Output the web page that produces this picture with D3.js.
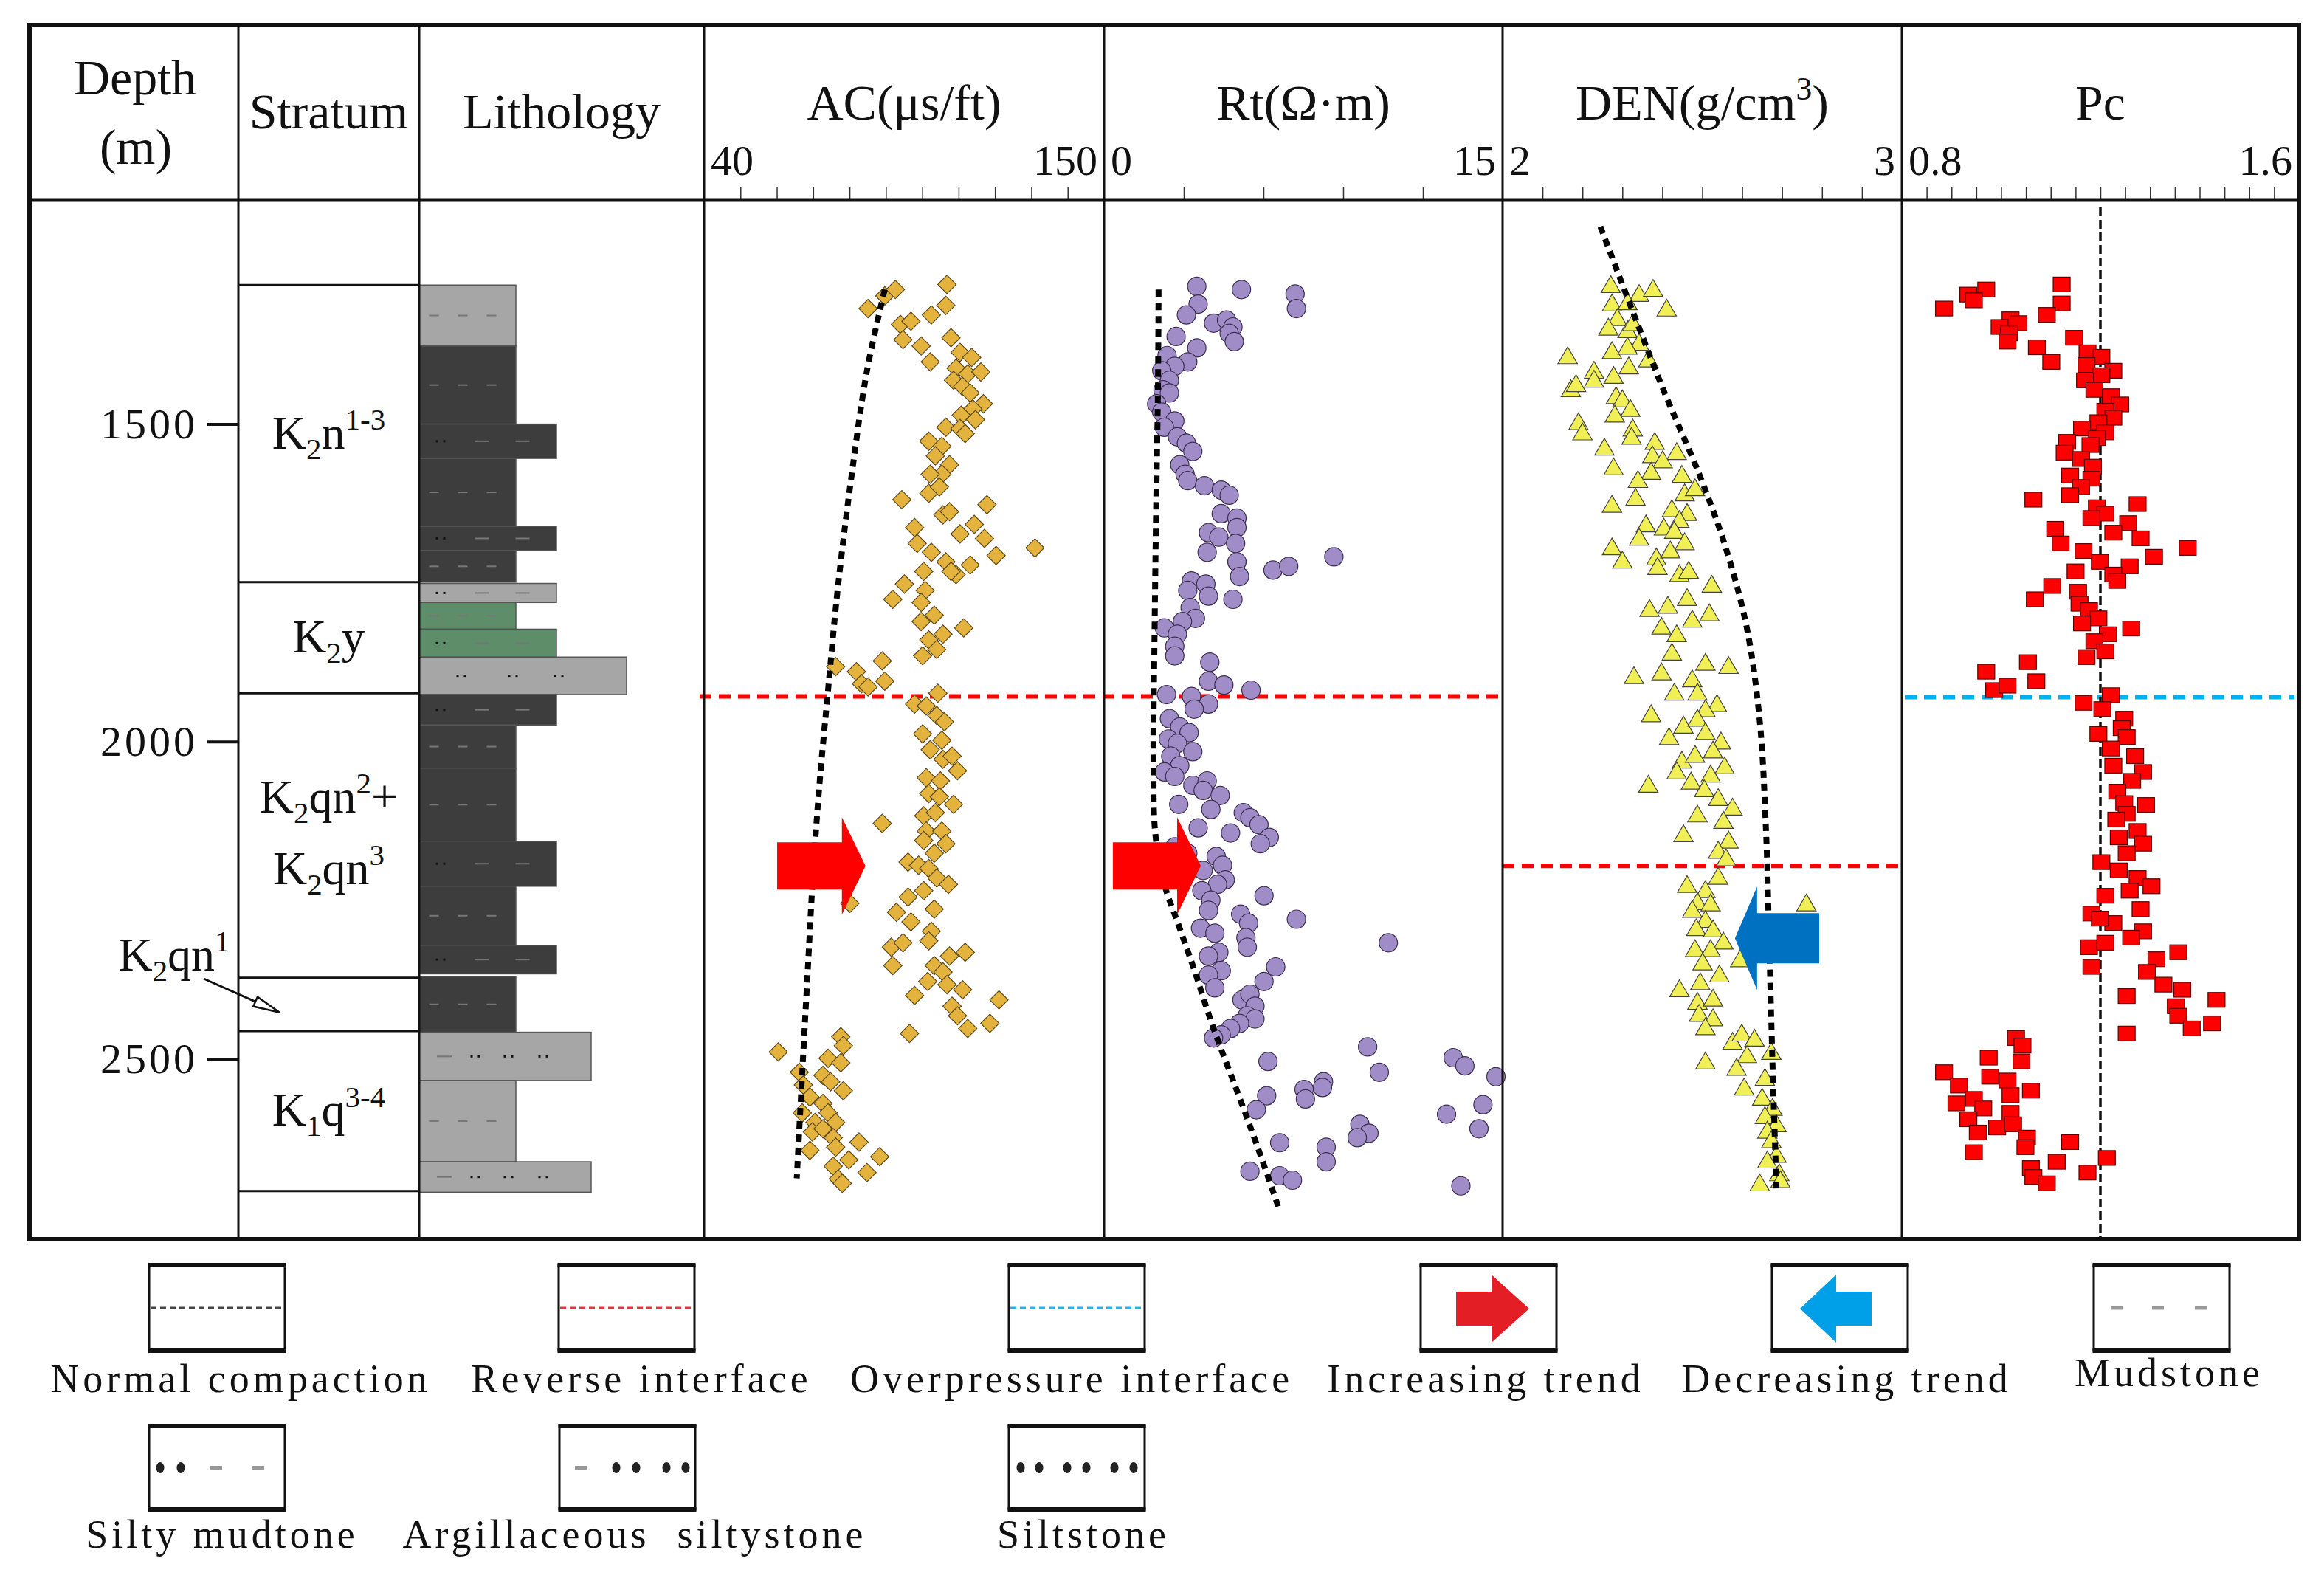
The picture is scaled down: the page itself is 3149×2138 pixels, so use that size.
<!DOCTYPE html>
<html>
<head>
<meta charset="utf-8">
<script src="https://cdn.jsdelivr.net/npm/d3@7"></script>
<style>
  body { margin: 0; background: #fff; }
  text { font-family: "Liberation Serif", "Times New Roman", serif; fill: #111; white-space: pre; }
</style>
</head>
<body>
<div class="canvas"></div>
<script>
// ---- data ----
const depthTicks = [1500, 2000, 2500];
const strataBounds = [1281, 1749, 1924, 2372, 2456, 2708];

// lithology layers: [top, bottom, type, shade]
const lithoLayers = [
  [1281, 1377, "mud", "light"],
  [1377, 1500, "mud", "dark"],
  [1500, 1554, "silty", "dark"],
  [1554, 1661, "mud", "dark"],
  [1661, 1699, "silty", "dark"],
  [1699, 1749, "mud", "dark"],
  [1751, 1781, "silty", "light"],
  [1781, 1823, "mud", "green"],
  [1823, 1867, "silty", "green"],
  [1867, 1926, "silt", "light"],
  [1926, 1974, "silty", "dark"],
  [1974, 2042, "mud", "dark"],
  [2042, 2157, "mud", "dark"],
  [2157, 2228, "silty", "dark"],
  [2228, 2321, "mud", "dark"],
  [2321, 2366, "silty", "dark"],
  [2370, 2458, "mud", "dark"],
  [2458, 2534, "argill", "light"],
  [2534, 2662, "mud", "light"],
  [2662, 2710, "argill", "light"]
];

const acRange = [40, 150], rtRange = [0, 15], denRange = [2, 3], pcRange = [0.8, 1.6];
const acTicks = [50, 60, 70, 80, 90, 100, 110, 120, 130, 140];
const rtTicks = [3, 6, 9, 12];
const denTicks = [2.1, 2.2, 2.3, 2.4, 2.5, 2.6, 2.7, 2.8, 2.9];
const pcTicks = [0.85, 0.9, 0.95, 1.0, 1.05, 1.1, 1.15, 1.2, 1.25, 1.3, 1.35, 1.4, 1.45, 1.5, 1.55];

// [value, depth]
const acPoints = [[85.1,1318],[89.7,1298],[92.6,1288],[106.8,1280],[106.5,1313],[102.5,1328],[94.0,1343],[96.9,1338],[94.7,1367],[99.7,1377],[102.2,1402],[107.9,1364],[110.4,1387],[113.6,1395],[109.3,1412],[112.5,1421],[116.1,1418],[108.6,1431],[111.1,1441],[113.2,1451],[116.8,1468],[113.9,1476],[110.7,1486],[114.6,1493],[106.5,1505],[110.4,1507],[111.8,1515],[101.8,1527],[105.4,1535],[103.6,1550],[107.5,1564],[105.4,1579],[102.2,1579],[101.8,1609],[104.7,1599],[94.4,1619],[117.8,1627],[105.7,1643],[107.5,1638],[110.4,1673],[114.3,1658],[97.9,1663],[98.6,1688],[102.5,1702],[106.5,1717],[117.1,1680],[120.3,1707],[131.0,1695],[113.2,1722],[109.3,1737],[107.9,1732],[95.1,1752],[91.9,1776],[100.4,1732],[100.8,1762],[103.3,1801],[99.7,1781],[99.7,1811],[105.7,1831],[111.4,1821],[101.8,1840],[104.0,1855],[100.1,1865],
  [76.2,1882],[81.9,1890],[83.3,1909],[89.0,1873],[89.7,1905],[85.1,1914],
  [104.3,1924],[97.9,1941],[101.1,1944],[104.0,1959],[106.1,1969],[100.1,1988],[105.4,1998],[102.2,2013],[105.7,2028],[108.2,2023],[109.7,2046],[101.1,2057],[105.0,2062],[101.8,2082],[104.7,2087],[108.6,2099],[100.4,2117],[103.6,2112],[89.0,2129],[101.1,2141],[105.4,2141],[100.4,2156],[106.5,2161],[103.3,2176],[96.1,2190],[99.0,2195],[101.8,2200],[104.0,2215],[107.2,2225],[100.4,2235],[96.1,2245],[80.1,2255],[92.9,2269],[96.9,2284],[103.3,2264],[102.5,2299],[101.8,2314],[91.5,2324],[94.7,2317],[91.9,2353],[107.5,2338],[111.8,2332],[103.3,2353],[105.7,2363],[106.8,2383],[101.5,2378],[97.9,2400],[111.1,2391],[121.1,2407],[108.2,2417],[109.7,2432],[112.5,2452],[118.6,2444],[96.5,2460],
  [60.4,2489],[77.6,2465],[78.3,2479],[74.1,2499],[77.6,2506],[66.2,2521],[72.7,2526],[74.8,2536],[67.3,2541],[78.3,2550],[69.1,2560],[72.7,2570],[74.1,2585],[67.0,2585],[70.5,2600],[76.2,2600],[69.8,2615],[72.7,2610],[75.5,2624],[82.6,2631],[69.1,2644],[76.2,2639],[79.8,2659],[88.3,2654],[75.5,2669],[84.8,2679],[76.9,2689],[78.0,2696]];

const rtPoints = [[3.49,1283],[5.17,1288],[7.19,1295],[7.24,1318],[3.54,1311],[3.10,1328],[4.12,1341],[4.61,1336],[4.85,1347],[4.71,1357],[4.90,1370],[2.71,1362],[3.49,1380],[2.37,1392],[3.15,1402],[2.66,1409],[2.17,1416],[2.46,1431],[2.22,1446],[2.46,1451],[1.98,1468],[2.17,1481],[2.66,1495],[2.27,1505],[2.76,1520],[3.10,1530],[3.34,1543],[2.85,1564],[3.05,1579],[3.15,1589],[3.78,1597],[4.41,1604],[4.71,1612],[4.41,1641],[5.00,1648],[3.93,1671],[4.32,1678],[5.00,1663],[4.95,1688],[3.88,1702],[5.00,1717],[5.10,1740],[6.36,1730],[6.95,1724],[8.65,1709],[3.29,1747],[3.83,1752],[3.15,1762],[3.93,1771],[3.24,1789],[3.44,1806],[2.27,1821],[2.95,1811],[2.76,1831],[2.66,1850],[2.66,1865],[4.85,1776],[3.98,1875],[3.93,1905],[4.51,1911],[5.53,1919],[2.35,1926],[3.29,1929],[3.93,1941],[3.39,1949],[2.46,1964],[2.85,1977],[3.20,1986],[2.42,1996],[2.76,2003],[3.34,2016],[2.51,2023],[2.85,2038],[2.27,2048],[2.66,2055],[3.34,2069],[3.88,2062],[3.73,2077],[4.37,2085],[4.02,2107],[2.81,2099],[5.24,2112],[5.49,2120],[5.83,2131],[6.22,2151],[5.88,2161],[3.54,2136],[4.76,2144],[2.66,2166],[3.15,2176],[4.22,2181],[4.46,2195],[3.73,2203],[4.56,2218],[4.27,2225],[3.68,2235],[4.02,2250],[6.02,2243],[7.24,2280],[3.93,2266],[5.14,2272],[5.44,2286],[3.63,2294],[4.17,2302],[5.34,2309],[5.39,2324],[10.70,2317],[4.32,2332],[3.93,2338],[4.41,2361],[3.93,2368],[4.17,2388],[6.46,2355],[6.02,2378],[5.19,2407],[5.49,2398],[5.68,2417],[5.39,2432],[5.68,2437],[5.10,2444],[4.76,2452],[4.41,2462],[4.12,2467],[9.92,2481],[6.17,2504],[10.36,2521],[13.14,2498],[13.58,2511],[14.75,2528],[7.53,2548],[7.58,2563],[8.26,2536],[8.22,2545],[6.12,2558],[5.73,2580],[12.89,2587],[14.26,2572],[9.63,2603],[9.97,2617],[9.53,2624],[14.11,2610],[6.61,2632],[8.36,2639],[8.36,2662],[5.49,2677],[6.61,2684],[7.09,2691],[13.43,2700]];

const denPoints = [[2.271,1284],[2.342,1298],[2.377,1290],[2.411,1321],[2.274,1313],[2.313,1311],[2.287,1336],[2.265,1351],[2.313,1355],[2.326,1344],[2.342,1375],[2.274,1388],[2.313,1381],[2.365,1401],[2.163,1396],[2.316,1412],[2.229,1419],[2.278,1427],[2.171,1448],[2.184,1440],[2.229,1433],[2.284,1459],[2.300,1464],[2.320,1479],[2.281,1488],[2.326,1510],[2.190,1500],[2.200,1516],[2.255,1540],[2.323,1523],[2.381,1531],[2.278,1571],[2.375,1552],[2.436,1547],[2.401,1560],[2.372,1578],[2.449,1583],[2.339,1591],[2.333,1619],[2.456,1612],[2.482,1604],[2.274,1630],[2.424,1637],[2.462,1643],[2.443,1654],[2.359,1661],[2.404,1666],[2.342,1682],[2.430,1671],[2.456,1689],[2.274,1697],[2.300,1718],[2.385,1713],[2.388,1728],[2.420,1702],[2.443,1739],[2.466,1734],[2.524,1756],[2.462,1777],[2.368,1794],[2.414,1789],[2.518,1801],[2.475,1811],[2.398,1822],[2.436,1834],[2.424,1863],[2.508,1879],[2.566,1884],[2.329,1900],[2.398,1894],[2.475,1905],[2.488,1926],[2.430,1926],[2.537,1944],[2.372,1960],[2.508,1952],[2.453,1978],[2.488,1967],[2.508,1988],[2.417,1996],[2.547,2003],[2.527,2017],[2.449,2033],[2.482,2024],[2.556,2042],[2.436,2050],[2.521,2055],[2.365,2071],[2.472,2066],[2.505,2078],[2.540,2092],[2.576,2107],[2.488,2118],[2.553,2128],[2.453,2149],[2.566,2159],[2.540,2175],[2.560,2187],[2.462,2229],[2.508,2237],[2.540,2216],[2.488,2256],[2.521,2258],[2.475,2268],[2.508,2284],[2.485,2297],[2.527,2299],[2.553,2318],[2.482,2330],[2.521,2330],[2.595,2346],[2.501,2351],[2.543,2370],[2.495,2382],[2.443,2393],[2.488,2413],[2.527,2408],[2.492,2432],[2.527,2439],[2.508,2453],[2.576,2476],[2.599,2463],[2.631,2471],[2.673,2492],[2.612,2497],[2.586,2517],[2.657,2533],[2.605,2548],[2.650,2564],[2.676,2580],[2.657,2593],[2.686,2606],[2.663,2616],[2.673,2631],[2.686,2654],[2.663,2663],[2.693,2683],[2.644,2699],[2.696,2694],[2.508,2507],[2.761,2258]];

const pcPoints = [[1.122,1280],[1.122,1310],[0.970,1288],[0.934,1296],[0.945,1305],[0.885,1318],[1.092,1328],[1.019,1335],[1.035,1341],[0.997,1347],[1.016,1357],[1.013,1370],[1.072,1379],[1.101,1402],[1.147,1364],[1.174,1387],[1.202,1394],[1.172,1407],[1.226,1416],[1.202,1423],[1.169,1431],[1.188,1446],[1.221,1456],[1.240,1469],[1.210,1479],[1.226,1490],[1.196,1497],[1.163,1507],[1.210,1513],[1.193,1522],[1.133,1528],[1.180,1533],[1.128,1545],[1.161,1555],[1.185,1567],[1.139,1581],[1.182,1586],[1.161,1599],[1.139,1612],[1.065,1619],[1.275,1626],[1.193,1631],[1.210,1641],[1.182,1648],[1.256,1656],[1.109,1665],[1.226,1671],[1.281,1680],[1.120,1688],[1.166,1700],[1.376,1695],[1.308,1709],[1.199,1717],[1.259,1724],[1.226,1737],[1.234,1747],[1.150,1732],[1.103,1755],[1.068,1776],[1.155,1764],[1.158,1783],[1.177,1793],[1.196,1806],[1.163,1814],[1.262,1822],[1.215,1831],[1.188,1842],[1.210,1858],[1.172,1867],[1.054,1875],[0.970,1890],[0.986,1919],[1.013,1912],[1.071,1905],[1.166,1939],[1.221,1927],[1.204,1949],[1.248,1964],[1.196,1988],[1.243,1979],[1.253,1993],[1.221,2011],[1.270,2023],[1.226,2038],[1.286,2048],[1.264,2062],[1.234,2079],[1.292,2100],[1.248,2097],[1.253,2114],[1.232,2123],[1.275,2141],[1.237,2151],[1.286,2161],[1.253,2176],[1.202,2190],[1.237,2203],[1.275,2215],[1.303,2228],[1.259,2235],[1.210,2243],[1.281,2264],[1.182,2271],[1.226,2286],[1.199,2279],[1.286,2299],[1.262,2309],[1.177,2324],[1.210,2317],[1.182,2355],[1.357,2332],[1.313,2343],[1.294,2363],[1.327,2383],[1.365,2391],[1.253,2401],[1.434,2407],[1.352,2417],[1.357,2432],[1.425,2444],[1.384,2452],[1.253,2460],[1.030,2467],[1.043,2479],[0.975,2498],[1.041,2504],[0.885,2521],[0.978,2528],[1.013,2534],[0.915,2542],[1.060,2550],[1.019,2557],[0.945,2563],[0.910,2570],[0.964,2578],[1.019,2585],[0.934,2595],[0.992,2608],[1.024,2603],[0.953,2616],[1.052,2624],[1.139,2631],[1.049,2639],[0.945,2647],[1.112,2662],[1.213,2656],[1.174,2679],[1.060,2672],[1.065,2686],[1.092,2696]];

// normal compaction trends [value, depth]
const acTrend = [[89.7,1288],[84.8,1416],[80.5,1584],[76.9,1752],[74.1,1919],[71.6,2077],[69.8,2225],[68.4,2373],[67.0,2521],[65.5,2688]];
const rtTrend = [[2.05,1288],[2.03,1436],[1.96,1633],[1.90,1831],[1.86,2028],[1.93,2146],[2.27,2225],[2.76,2284],[3.34,2353],[4.12,2452],[5.00,2550],[5.78,2639],[6.56,2733]];
const denTrend = [[2.245,1189],[2.333,1334],[2.404,1448],[2.495,1583],[2.560,1697],[2.612,1822],[2.644,1967],[2.660,2144],[2.667,2299],[2.676,2507],[2.686,2704]];
const pcNormal = 1.2;
const reverseDepth = 1929, denReverseDepth = 2196, overpressureDepth = 1930;

const legendLabels = ["Normal compaction", "Reverse interface", "Overpressure interface",
  "Increasing trend", "Decreasing trend", "Mudstone",
  "Silty mudtone", "Argillaceous  siltystone", "Siltstone"];

// ---- layout ----
const W = 3149, H = 2138;
const colX = [40, 323, 568, 954, 1496, 2036, 2577, 3115];
const frame = { top: 34, head: 271, bottom: 1679 };

const svg = d3.select(".canvas").append("svg").attr("width", W).attr("height", H);
svg.append("rect").attr("width", W).attr("height", H).attr("fill", "#fff");

const y = d3.scaleLinear().domain([1147, 2784]).range([frame.head, frame.bottom]);
const xAC = d3.scaleLinear().domain(acRange).range([colX[3], colX[4]]);
const xRt = d3.scaleLinear().domain(rtRange).range([colX[4], colX[5]]);
const xDEN = d3.scaleLinear().domain(denRange).range([colX[5], colX[6]]);
const xPc = d3.scaleLinear().domain(pcRange).range([colX[6], colX[7]]);

// rich text helper (sub / sup)
const richText = (sel, parts, size) => {
  let shift = 0;
  parts.forEach(([t, k]) => {
    const target = k === "sub" ? size * 0.22 : k === "sup" ? -size * 0.4 : 0;
    sel.append("tspan").text(t)
      .attr("font-size", k ? size * 0.64 : size)
      .attr("dy", target - shift);
    shift = target;
  });
};

// header texts
const head = svg.append("g");
head.append("text").attr("x", 183).attr("y", 128).attr("text-anchor", "middle").attr("font-size", 68).text("Depth");
head.append("text").attr("x", 184).attr("y", 222).attr("text-anchor", "middle").attr("font-size", 68).text("(m)");
head.append("text").attr("x", (colX[1] + colX[2]) / 2).attr("y", 174).attr("text-anchor", "middle").attr("font-size", 68).text("Stratum");
head.append("text").attr("x", (colX[2] + colX[3]) / 2).attr("y", 174).attr("text-anchor", "middle").attr("font-size", 68).text("Lithology");

const tracks = [
  { scale: xAC, ticks: acTicks, title: [["AC(μs/ft)"]], ends: ["40", "150"] },
  { scale: xRt, ticks: rtTicks, title: [["Rt(Ω·m)"]], ends: ["0", "15"] },
  { scale: xDEN, ticks: denTicks, title: [["DEN(g/cm"], ["3", "sup"], [")"]], ends: ["2", "3"] },
  { scale: xPc, ticks: pcTicks, title: [["Pc"]], ends: ["0.8", "1.6"] }
];

tracks.forEach((t) => {
  const [r0, r1] = t.scale.range();
  const tt = head.append("text").attr("x", (r0 + r1) / 2).attr("y", 162).attr("text-anchor", "middle");
  richText(tt, t.title, 68);
  head.append("text").attr("x", r0 + 9).attr("y", 237).attr("font-size", 58).text(t.ends[0]);
  head.append("text").attr("x", r1 - 9).attr("y", 237).attr("text-anchor", "end").attr("font-size", 58).text(t.ends[1]);
  const ax = svg.append("g").attr("transform", `translate(0,${frame.head})`)
    .call(d3.axisTop(t.scale).tickValues(t.ticks).tickSize(18).tickFormat(""));
  ax.select(".domain").remove();
  ax.selectAll("line").attr("stroke", "#333").attr("stroke-width", 1.5);
});

// depth axis
const dAx = svg.append("g").attr("transform", `translate(${colX[1]},0)`)
  .call(d3.axisLeft(y).tickValues(depthTicks).tickSize(42).tickPadding(13).tickFormat(d3.format("d")));
dAx.select(".domain").remove();
dAx.selectAll("line").attr("stroke", "#111").attr("stroke-width", 4);
dAx.selectAll("text").attr("font-size", 58).attr("letter-spacing", 4)
  .attr("font-family", "Liberation Serif").attr("fill", "#111");

// strata
const strat = svg.append("g");
strat.selectAll("line").data(strataBounds).join("line")
  .attr("x1", colX[1]).attr("x2", colX[2])
  .attr("y1", (d) => y(d)).attr("y2", (d) => y(d))
  .attr("stroke", "#111").attr("stroke-width", 3);

const strataNames = [
  { i: 0, lines: [[["K"], ["2", "sub"], ["n"], ["1-3", "sup"]]] },
  { i: 1, lines: [[["K"], ["2", "sub"], ["y"]]] },
  { i: 2, lines: [[["K"], ["2", "sub"], ["qn"], ["2", "sup"], ["+"]], [["K"], ["2", "sub"], ["qn"], ["3", "sup"]]] },
  { i: 4, lines: [[["K"], ["1", "sub"], ["q"], ["3-4", "sup"]]] }
];
strataNames.forEach((s) => {
  const mid = (y(strataBounds[s.i]) + y(strataBounds[s.i + 1])) / 2;
  const ys = s.lines.length === 1 ? [mid + 20] : [mid - 31, mid + 66];
  s.lines.forEach((parts, k) => {
    const t = strat.append("text").attr("x", (colX[1] + colX[2]) / 2).attr("y", ys[k]).attr("text-anchor", "middle");
    richText(t, parts, 64);
  });
});
// K2qn1 callout
const cq = strat.append("text").attr("x", 236).attr("y", 1315).attr("text-anchor", "middle");
richText(cq, [["K"], ["2", "sub"], ["qn"], ["1", "sup"]], 64);
{
  const x1 = 276, y1 = 1326, x2 = 379, y2 = (y(strataBounds[3]) + y(strataBounds[4])) / 2 + 11;
  const a = Math.atan2(y2 - y1, x2 - x1);
  strat.append("line").attr("x1", x1).attr("y1", y1).attr("x2", x2 - 20 * Math.cos(a)).attr("y2", y2 - 20 * Math.sin(a))
    .attr("stroke", "#111").attr("stroke-width", 3);
  const bx = x2 - 36 * Math.cos(a), by = y2 - 36 * Math.sin(a);
  const px = -Math.sin(a) * 7, py = Math.cos(a) * 7;
  strat.append("path").attr("d", `M${x2},${y2}L${bx + px},${by + py}L${bx - px},${by - py}Z`)
    .attr("fill", "#fff").attr("stroke", "#111").attr("stroke-width", 2.5);
}

// lithology
const shadeColor = { dark: "#3d3d3d", light: "#a6a6a6", green: "#5e8d69" };
const grainRight = d3.scaleOrdinal().domain(["mud", "silty", "argill", "silt"]).range([131, 186, 233, 281]);
const patterns = {
  mud: { dots: [], dashes: [20, 59, 98], len: 13 },
  silty: { dots: [29], dashes: [85, 140], len: 19 },
  argill: { dots: [76, 121, 168], dashes: [34], len: 20 },
  silt: { dots: [57, 127, 189], dashes: [], len: 0 }
};
const litho = svg.append("g");
lithoLayers.forEach(([top, bot, type, shade]) => {
  const y0 = y(top), y1 = y(bot), x0 = colX[2];
  litho.append("rect").attr("x", x0).attr("y", y0).attr("width", grainRight(type)).attr("height", y1 - y0)
    .attr("fill", shadeColor[shade]).attr("stroke", "#555").attr("stroke-width", 1.5);
  const cy = (y0 + y1) / 2, p = patterns[type];
  p.dashes.forEach((dx) => {
    litho.append("line").attr("x1", x0 + dx - p.len / 2).attr("x2", x0 + dx + p.len / 2)
      .attr("y1", cy).attr("y2", cy).attr("stroke", "#777").attr("stroke-width", 2);
  });
  p.dots.forEach((dx) => {
    [-5, 5].forEach((o) => litho.append("rect").attr("x", x0 + dx + o - 1.5).attr("y", cy - 1.5)
      .attr("width", 3).attr("height", 3).attr("fill", "#111"));
  });
});

// interface lines
const ifc = svg.append("g");
ifc.append("line").attr("x1", colX[3] - 6).attr("x2", colX[5]).attr("y1", y(reverseDepth)).attr("y2", y(reverseDepth))
  .attr("stroke", "#ff0000").attr("stroke-width", 6).attr("stroke-dasharray", "16 10");
ifc.append("line").attr("x1", colX[5]).attr("x2", colX[6]).attr("y1", y(denReverseDepth)).attr("y2", y(denReverseDepth))
  .attr("stroke", "#ff0000").attr("stroke-width", 6).attr("stroke-dasharray", "16 10");
ifc.append("line").attr("x1", colX[6] + 4).attr("x2", colX[7] - 6).attr("y1", y(overpressureDepth)).attr("y2", y(overpressureDepth))
  .attr("stroke", "#00b0f0").attr("stroke-width", 6).attr("stroke-dasharray", "16 10");
svg.append("line").attr("x1", xPc(pcNormal)).attr("x2", xPc(pcNormal)).attr("y1", frame.head + 10).attr("y2", frame.bottom)
  .attr("stroke", "#111").attr("stroke-width", 3.5).attr("stroke-dasharray", "12 5");

// scatter marks
const marks = svg.append("g");
marks.selectAll(".ac").data(acPoints).join("path").attr("class", "ac")
  .attr("d", d3.symbol(d3.symbolSquare, 310))
  .attr("transform", (d) => `translate(${xAC(d[0])},${y(d[1])}) rotate(45)`)
  .attr("fill", "#e3b33d").attr("stroke", "#5e4c20").attr("stroke-width", 1.2);
marks.selectAll(".rt").data(rtPoints).join("circle").attr("class", "rt")
  .attr("cx", (d) => xRt(d[0])).attr("cy", (d) => y(d[1])).attr("r", 12.5)
  .attr("fill", "#a08cc6").attr("stroke", "#3d3052").attr("stroke-width", 1.2);
marks.selectAll(".den").data(denPoints).join("path").attr("class", "den")
  .attr("d", d3.symbol(d3.symbolTriangle, 300))
  .attr("transform", (d) => `translate(${xDEN(d[0])},${y(d[1])})`)
  .attr("fill", "#f0ef55").attr("stroke", "#444").attr("stroke-width", 1.2);
marks.selectAll(".pc").data(pcPoints).join("rect").attr("class", "pc")
  .attr("x", (d) => xPc(d[0]) - 11.5).attr("y", (d) => y(d[1]) - 10).attr("width", 23).attr("height", 20)
  .attr("fill", "#ff0000").attr("stroke", "#5a0000").attr("stroke-width", 1.2);

// normal compaction trends
const trend = (scale) => d3.line().x((d) => scale(d[0])).y((d) => y(d[1])).curve(d3.curveCatmullRom.alpha(0.5));
[[acTrend, xAC], [rtTrend, xRt], [denTrend, xDEN]].forEach(([data, sc]) => {
  svg.append("path").attr("d", trend(sc)(data)).attr("fill", "none")
    .attr("stroke", "#000").attr("stroke-width", 8).attr("stroke-dasharray", "10 8");
});

// trend arrows
const arrowPath = (tipX, tipY, tailX, headLen, bodyH, headH) => {
  const dir = tipX > tailX ? 1 : -1;
  const bx = tipX - dir * headLen;
  return `M${tipX},${tipY}L${bx},${tipY - headH}L${bx},${tipY - bodyH}L${tailX},${tipY - bodyH}L${tailX},${tipY + bodyH}L${bx},${tipY + bodyH}L${bx},${tipY + headH}Z`;
};
svg.append("path").attr("d", arrowPath(xAC(84.4), y(2196), xAC(60.1), 32, 32, 66)).attr("fill", "#ff0000");
svg.append("path").attr("d", arrowPath(xRt(3.64), y(2196), xRt(0.33), 32, 32, 66)).attr("fill", "#ff0000");
svg.append("path").attr("d", arrowPath(xDEN(2.582), y(2310), xDEN(2.793), 30, 34, 70)).attr("fill", "#0070c0");

// frame
const fr = svg.append("g");
colX.slice(1, -1).forEach((x) => fr.append("line").attr("x1", x).attr("x2", x)
  .attr("y1", frame.top).attr("y2", frame.bottom).attr("stroke", "#111").attr("stroke-width", 3));
fr.append("line").attr("x1", colX[0]).attr("x2", colX[7]).attr("y1", frame.head).attr("y2", frame.head)
  .attr("stroke", "#111").attr("stroke-width", 5);
fr.append("rect").attr("x", colX[0]).attr("y", frame.top).attr("width", colX[7] - colX[0]).attr("height", frame.bottom - frame.top)
  .attr("fill", "none").attr("stroke", "#111").attr("stroke-width", 6);

// legend
const boxW = 184;
const legendRows = [{ top: 1714, h: 116, base: 1886 }, { top: 1932, h: 113, base: 2097 }];
const legendBoxX = [202, 757, 1367, 1925, 2401, 2837, 202, 758, 1367];
const legendTextX = [326, 869, 1452, 2013, 2502, 2939, 301, 860, 1468];
const legendKinds = ["line:#444", "line:#e8323c", "line:#1eb4f0", "arrowR", "arrowL", "mud", "silty", "argill", "silt"];
const legendGlyphs = {
  mud: { dots: [], dashes: [31, 87, 145] },
  silty: { dots: [15, 43], dashes: [91, 148] },
  argill: { dots: [77, 104, 145, 171], dashes: [29] },
  silt: { dots: [16, 41, 79, 105, 143, 169], dashes: [] }
};
const lg = svg.append("g");
legendLabels.forEach((label, i) => {
  const row = legendRows[i < 6 ? 0 : 1];
  const x0 = legendBoxX[i], y0 = row.top, cy = y0 + row.h / 2;
  lg.append("rect").attr("x", x0).attr("y", y0).attr("width", boxW).attr("height", row.h)
    .attr("fill", "#fff").attr("stroke", "#111").attr("stroke-width", 3);
  [y0, y0 + row.h].forEach((yy) => lg.append("line").attr("x1", x0 - 1.5).attr("x2", x0 + boxW + 1.5)
    .attr("y1", yy).attr("y2", yy).attr("stroke", "#111").attr("stroke-width", 6));
  const kind = legendKinds[i];
  if (kind.startsWith("line")) {
    lg.append("line").attr("x1", x0 + 2).attr("x2", x0 + boxW - 2).attr("y1", cy).attr("y2", cy)
      .attr("stroke", kind.split(":")[1]).attr("stroke-width", 3).attr("stroke-dasharray", "8 5");
  } else if (kind === "arrowR") {
    lg.append("path").attr("d", arrowPath(x0 + 147, cy + 1, x0 + 48, 51, 23, 46)).attr("fill", "#e31e24");
  } else if (kind === "arrowL") {
    lg.append("path").attr("d", arrowPath(x0 + 38, cy + 1, x0 + 135, 49, 23, 46)).attr("fill", "#00a0e9");
  } else {
    const g = legendGlyphs[kind];
    g.dashes.forEach((dx) => lg.append("rect").attr("x", x0 + dx - 8).attr("y", cy - 2.5)
      .attr("width", 16).attr("height", 5).attr("fill", "#999"));
    g.dots.forEach((dx) => lg.append("ellipse").attr("cx", x0 + dx).attr("cy", cy)
      .attr("rx", 5.5).attr("ry", 7.5).attr("fill", "#222"));
  }
  lg.append("text").attr("x", legendTextX[i]).attr("y", i === 5 ? row.base - 8 : row.base)
    .attr("text-anchor", "middle").attr("font-size", 54).attr("letter-spacing", 5).text(label);
});
</script>
</body>
</html>
